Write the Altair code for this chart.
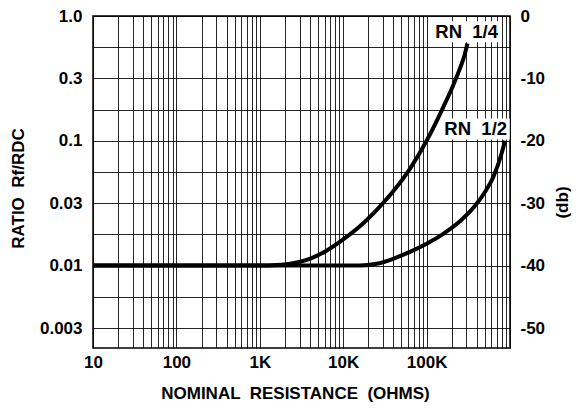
import altair as alt
import pandas as pd

# ---------------- data ----------------
rn14_ohms = [10, 1000, 1585, 2512, 3981, 6310, 10000, 15849, 25119, 39811,
             63096, 100000, 125893, 158489, 199526, 251189, 281838, 309030]
rn14_ratio = [0.01, 0.01, 0.010116, 0.010471, 0.01135, 0.013183, 0.016218,
              0.020654, 0.027861, 0.039355, 0.059566, 0.1, 0.1349, 0.18621,
              0.26002, 0.38019, 0.47315, 0.60256]

rn12_ohms = [10, 15849, 25119, 39811, 63096, 100000, 158489, 251189, 398107,
             501187, 630957, 794328, 870964]
rn12_ratio = [0.01, 0.01, 0.010351, 0.01135, 0.012882, 0.014962, 0.017989,
              0.022646, 0.031261, 0.038905, 0.051286, 0.079433, 0.1]

series_names = ["RN 1/4", "RN 1/2"]

x_label_values = [10, 100, 1000, 10000, 100000]
x_label_texts = ["10", "100", "1K", "10K", "100K"]
x_grid_values = [m * 10 ** k for k in range(1, 6) for m in range(1, 10)] + [1000000]

db_label_values = [0, -10, -20, -30, -40, -50]
ratio_label_texts = ["1.0", "0.3", "0.1", "0.03", "0.01", "0.003"]
db_label_texts = ["0", "-10", "-20", "-30", "-40", "-50"]
db_grid_values = [0, -5, -10, -15, -20, -25, -30, -35, -40, -45, -50]

curve_label_texts = ["RN \u00a01/4", "RN \u00a01/2"]
curve_label_ohms = [302000, 388000]
curve_label_ratio = [0.749, 0.1245]

# ---------------- tables ----------------
curves = pd.DataFrame({
    "ohms": rn14_ohms + rn12_ohms,
    "ratio": rn14_ratio + rn12_ratio,
    "series": [series_names[0]] * len(rn14_ohms) + [series_names[1]] * len(rn12_ohms),
})
labels = pd.DataFrame({
    "ohms": curve_label_ohms,
    "ratio": curve_label_ratio,
    "text": curve_label_texts,
})


def case_expr(values, texts):
    expr = "''"
    for v, t in reversed(list(zip(values, texts))):
        expr = f"datum.value == {v} ? '{t}' : ({expr})"
    return expr


FONT = "Liberation Sans"
DB = "20 * log(datum.ratio) / LN10"

x_scale = alt.Scale(type="log", domain=[10, 1000000])
y_scale = alt.Scale(domain=[-53.2, 0], nice=False, zero=False)

x_axis = alt.Axis(
    values=x_grid_values,
    labelExpr=case_expr(x_label_values, x_label_texts),
    labelOverlap=False, labelFlush=False,
    labelPadding=6,
    title="NOMINAL \u00a0RESISTANCE \u00a0(OHMS)",
    titleX=202, titleY=45, titleBaseline="middle", titleAlign="center",
    grid=True,
)
left_axis = alt.Axis(
    orient="left",
    values=db_grid_values,
    labelExpr=case_expr(db_label_values, ratio_label_texts),
    labelOverlap=False, labelFlush=False,
    labelPadding=11,
    title="RATIO \u00a0Rf/RDC",
    titleAngle=270, titleX=-74.5, titleY=172,
    titleBaseline="middle", titleAlign="center",
    grid=True,
)
right_axis = alt.Axis(
    orient="right",
    values=db_grid_values,
    labelExpr=case_expr(db_label_values, db_label_texts),
    labelOverlap=False, labelFlush=False,
    labelPadding=10,
    title="(db)",
    titleAngle=270, titleX=52, titleY=186,
    titleBaseline="middle", titleAlign="center",
    grid=False,
)

X = alt.X("ohms:Q", scale=x_scale, axis=x_axis)

base = alt.Chart(curves).transform_calculate(db=DB)
lab_base = alt.Chart(labels).transform_calculate(db=DB)

boxes = lab_base.mark_point(
    shape="M-1,-0.31L1,-0.31L1,0.31L-1,0.31Z",
    size=4624, filled=True, fill="white", opacity=1, strokeWidth=0,
).encode(
    x=X,
    y=alt.Y("db:Q", scale=y_scale, axis=None),
)

lines = base.mark_line(color="black", strokeWidth=4, interpolate="monotone").encode(
    x=X,
    y=alt.Y("db:Q", scale=y_scale, axis=left_axis),
    detail="series:N",
)

right = base.mark_line(opacity=0).encode(
    x=X,
    y=alt.Y("db:Q", scale=y_scale, axis=right_axis),
    detail="series:N",
)

texts = lab_base.mark_text(
    font=FONT, fontSize=18.5, fontWeight="bold", color="black",
    align="center", baseline="middle",
).encode(
    x=X,
    y=alt.Y("db:Q", scale=y_scale, axis=None),
    text="text:N",
)

chart = (
    alt.layer(boxes, lines, right, texts)
    .resolve_scale(y="independent")
    .properties(
        width=417, height=332,
        autosize=alt.AutoSizeParams(type="none"),
        padding={"left": 85, "top": 8, "right": 62, "bottom": 54},
        background="white",
    )
    .configure_view(stroke="black", strokeWidth=1.5)
    .configure_axis(
        domain=False, ticks=False, tickSize=0,
        gridColor="black", gridWidth=1, gridOpacity=0.85,
        labelFont=FONT, labelFontSize=17, labelFontWeight="bold", labelColor="black",
        titleFont=FONT, titleFontSize=17, titleFontWeight="bold", titleColor="black",
    )
)

chart.save("out.html", embed_options={"renderer": "svg", "actions": False})
